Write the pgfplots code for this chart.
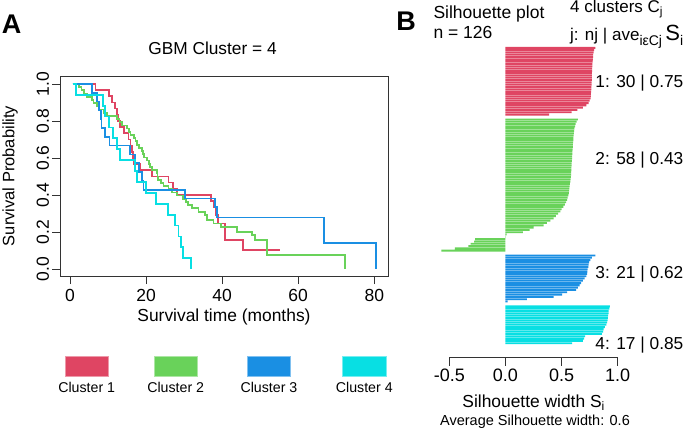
\documentclass[border=0pt]{standalone}
\usepackage{fontspec}
\setmainfont{Liberation Sans}
\usepackage{pgfplots}
\pgfplotsset{compat=1.18}
\definecolor{c1}{HTML}{DF4563}
\definecolor{c2}{HTML}{69D25A}
\definecolor{c3}{HTML}{1A8FE3}
\definecolor{c4}{HTML}{08DFE3}
\newcommand{\fs}[1]{\fontsize{#1}{#1}\selectfont}
\begin{document}
\begin{tikzpicture}
\path[use as bounding box] (0,0) rectangle (685pt,430pt);

% ---------------- Panel A: Kaplan-Meier ----------------
\begin{axis}[
  at={(60pt,153.3pt)}, anchor=south west,
  scale only axis, width=328pt, height=200.7pt,
  xmin=-2.63, xmax=83.6, ymin=-0.0416, ymax=1.0432,
  axis line style={draw=black!80, line width=0.8pt},
  tick style={draw=black!80, line width=0.8pt},
  tick align=outside, major tick length=7.5pt, tick pos=left,
  xtick={0,20,40,60,80}, xticklabels={0,20,40,60,80},
  ytick={0,0.2,0.4,0.6,0.8,1}, yticklabels={0.0,0.2,0.4,0.6,0.8,1.0},
  ticklabel style={font=\fs{17.5}},
  xticklabel style={yshift=-1.5pt},
  yticklabel style={rotate=90, anchor=south},
  title={GBM Cluster = 4},
  title style={at={(axis description cs:0.465,1.11)}, anchor=center, font=\fs{17.3}},
  xlabel={Survival time (months)},
  xlabel style={at={(axis description cs:0.5,-0.199)}, anchor=center, font=\fs{17.4}},
  ylabel={Survival Probability},
  ylabel style={at={(axis description cs:-0.152,0.502)}, anchor=center, font=\fs{16.5}},
  every axis plot/.append style={no marks, line width=1.8pt, const plot, line join=miter},
]
\addplot[c1] coordinates {
(0.7,1) (6.7,0.967) (10.2,0.933) (11.1,0.9) (11.8,0.867) (12.4,0.833) (12.6,0.8)
(13.2,0.767) (14.1,0.733) (15.4,0.7) (15.9,0.667) (16.3,0.633) (16.5,0.6) (16.8,0.567)
(18.3,0.533) (21.5,0.5) (25.9,0.467) (27.0,0.433) (28.1,0.4) (37.0,0.367) (37.8,0.333)
(38.4,0.29) (39.0,0.246) (40.8,0.155) (45.5,0.101) (55.3,0.101)};
\addplot[c2] coordinates {
(0.7,1) (2.3,0.983) (3.0,0.966) (3.6,0.948) (4.5,0.931) (5.8,0.914) (6.2,0.897)
(7.1,0.879) (7.5,0.862) (8.9,0.845) (9.8,0.828) (12.4,0.81) (13.0,0.793) (13.7,0.776)
(15.0,0.759) (15.5,0.741) (15.9,0.724) (16.8,0.707) (17.2,0.69) (17.7,0.672) (18.1,0.655)
(18.9,0.638) (19.2,0.621) (19.4,0.603) (20.3,0.586) (20.7,0.569) (21.1,0.552) (21.5,0.534)
(22.8,0.517) (23.0,0.5) (23.2,0.483) (24.0,0.466) (24.6,0.448) (25.9,0.431) (26.8,0.414)
(28.1,0.397) (29.8,0.379) (30.5,0.362) (31.1,0.345) (32.0,0.328) (33.8,0.31) (35.5,0.29)
(36.0,0.264) (37.7,0.246) (39.8,0.227) (43.9,0.2) (47.8,0.182) (48.7,0.155) (51.7,0.11)
(51.8,0.074) (72.4,0)};
\addplot[c3] coordinates {
(0.7,1) (5.7,0.952) (7.1,0.905) (7.6,0.857) (8.2,0.81) (8.3,0.762) (9.1,0.714)
(10.4,0.667) (15.8,0.619) (17.1,0.571) (18.2,0.524) (18.9,0.476) (19.3,0.429)
(30.3,0.381) (38.2,0.333) (38.6,0.278) (66.7,0.139) (80.4,0)};
\addplot[c4] coordinates {
(0.7,1) (1.6,0.941) (8.6,0.882) (9.3,0.824) (10.2,0.765) (11.3,0.706) (12.4,0.647)
(13.2,0.588) (17.1,0.529) (17.6,0.471) (19.9,0.412) (22.6,0.353) (25.7,0.294)
(27.6,0.235) (28.5,0.176) (29.1,0.118) (29.8,0.059) (31.8,0)};
\end{axis}

% legend
\filldraw[fill=c1, draw=c1!55!white, line width=0.6pt] (65pt,53.3pt) rectangle (108.3pt,74pt);
\filldraw[fill=c2, draw=c2!55!white, line width=0.6pt] (154pt,53.3pt) rectangle (197.3pt,74pt);
\filldraw[fill=c3, draw=c3!55!white, line width=0.6pt] (247.3pt,53.3pt) rectangle (290.7pt,74pt);
\filldraw[fill=c4, draw=c4!55!white, line width=0.6pt] (342.7pt,53.3pt) rectangle (386pt,74pt);
\node[font=\fs{14.2}, anchor=center] at (86.7pt,43pt) {Cluster 1};
\node[font=\fs{14.2}, anchor=center] at (175.7pt,43pt) {Cluster 2};
\node[font=\fs{14.2}, anchor=center] at (269pt,43pt) {Cluster 3};
\node[font=\fs{14.2}, anchor=center] at (364.3pt,43pt) {Cluster 4};

% ---------------- Panel B: Silhouette ----------------
\begin{axis}[
  at={(449.3pt,72.3pt)}, anchor=south west,
  scale only axis, width=168.4pt, height=311pt,
  xmin=-0.5, xmax=1.0, ymin=-135.6, ymax=-0.5,
  axis x line*=bottom, axis y line=none,
  axis line style={-, draw=black!80, line width=0.8pt},
  tick style={draw=black!80, line width=0.8pt},
  tick align=outside, major tick length=8pt,
  xtick={-0.5,0,0.5,1}, xticklabels={-0.5,0.0,0.5,1.0},
  ticklabel style={font=\fs{18}},
  clip=false,
  xlabel={Silhouette width S\textsubscript{i}},
  xlabel style={at={(axis description cs:0.501,-0.1457)}, anchor=center, font=\fs{17.4}},
]
\addplot[xbar, bar width=0.8, bar shift=0pt, fill=c1, draw=none] coordinates {
(0.800,-1) (0.790,-2) (0.785,-3) (0.780,-4) (0.780,-5) (0.778,-6) (0.776,-7) (0.775,-8)
(0.774,-9) (0.773,-10) (0.772,-11) (0.771,-12) (0.770,-13) (0.770,-14) (0.769,-15)
(0.768,-16) (0.767,-17) (0.766,-18) (0.765,-19) (0.764,-20) (0.762,-21) (0.760,-22)
(0.758,-23) (0.750,-24) (0.740,-25) (0.720,-26) (0.690,-27) (0.640,-28) (0.590,-29)
(0.390,-30)};
\addplot[xbar, bar width=0.8, bar shift=0pt, fill=c2, draw=none] coordinates {
(0.645,-32.1) (0.635,-33.1) (0.625,-34.1) (0.620,-35.1) (0.615,-36.1) (0.612,-37.1)
(0.610,-38.1) (0.608,-39.1) (0.606,-40.1) (0.605,-41.1) (0.603,-42.1) (0.600,-43.1)
(0.600,-44.1) (0.598,-45.1) (0.597,-46.1) (0.596,-47.1) (0.595,-48.1) (0.594,-49.1)
(0.592,-50.1) (0.590,-51.1) (0.590,-52.1) (0.588,-53.1) (0.587,-54.1) (0.586,-55.1)
(0.585,-56.1) (0.583,-57.1) (0.580,-58.1) (0.578,-59.1) (0.575,-60.1) (0.572,-61.1)
(0.570,-62.1) (0.568,-63.1) (0.565,-64.1) (0.560,-65.1) (0.555,-66.1) (0.550,-67.1)
(0.540,-68.1) (0.530,-69.1) (0.515,-70.1) (0.500,-71.1) (0.490,-72.1) (0.470,-73.1)
(0.450,-74.1) (0.430,-75.1) (0.400,-76.1) (0.370,-77.1) (0.340,-78.1) (0.250,-79.1)
(0.215,-80.1) (0.155,-81.1) (0.010,-82.1) (0.002,-83.1) (-0.270,-84.1) (-0.280,-85.1)
(-0.310,-86.1) (-0.330,-87.1) (-0.450,-88.1) (-0.570,-89.1)};
\addplot[xbar, bar width=0.8, bar shift=0pt, fill=c3, draw=none] coordinates {
(0.800,-91.2) (0.770,-92.2) (0.757,-93.2) (0.745,-94.2) (0.740,-95.2) (0.738,-96.2)
(0.733,-97.2) (0.730,-98.2) (0.727,-99.2) (0.720,-100.2) (0.705,-101.2) (0.690,-102.2)
(0.675,-103.2) (0.660,-104.2) (0.645,-105.2) (0.630,-106.2) (0.550,-107.2) (0.506,-108.2)
(0.430,-109.2) (0.190,-110.2) (0.020,-111.2)};
\addplot[xbar, bar width=0.8, bar shift=0pt, fill=c4, draw=none] coordinates {
(0.930,-113.3) (0.925,-114.3) (0.920,-115.3) (0.918,-116.3) (0.915,-117.3) (0.912,-118.3)
(0.910,-119.3) (0.905,-120.3) (0.900,-121.3) (0.885,-122.3) (0.875,-123.3) (0.870,-124.3)
(0.860,-125.3) (0.710,-126.3) (0.700,-127.3) (0.690,-128.3) (0.595,-129.3)};
\end{axis}

% panel letters and texts
\node[font=\bfseries\fs{27}, anchor=center] at (11.7pt,405.8pt) {A};
\node[font=\bfseries\fs{27}, anchor=center] at (406pt,408.5pt) {B};
\node[font=\fs{17.5}, anchor=base west, inner sep=0pt] at (433.3pt,411.5pt) {Silhouette plot};
\node[font=\fs{17.5}, anchor=base west, inner sep=0pt] at (433.3pt,391pt) {n = 126};
\node[font=\fs{17}, anchor=base west, inner sep=0pt] at (570pt,417.5pt) {4 clusters C\textsubscript{j}};
\node[font=\fs{17}, anchor=base west, inner sep=0pt] at (570pt,389pt) {j: nj | ave\textsubscript{\fs{14}iεCj}\,{\fs{22}S}\textsubscript{\fs{14}i}};
\node[font=\fs{17.3}, anchor=east, inner sep=0pt] at (683.5pt,347pt) {1: 30 | 0.75};
\node[font=\fs{17.3}, anchor=east, inner sep=0pt] at (683.5pt,270pt) {2: 58 | 0.43};
\node[font=\fs{17.3}, anchor=east, inner sep=0pt] at (683.5pt,156pt) {3: 21 | 0.62};
\node[font=\fs{17.3}, anchor=east, inner sep=0pt] at (683.5pt,85pt) {4: 17 | 0.85};
\node[font=\fs{14.5}, anchor=center] at (535pt,8pt) {Average Silhouette width: 0.6};
\end{tikzpicture}
\end{document}
